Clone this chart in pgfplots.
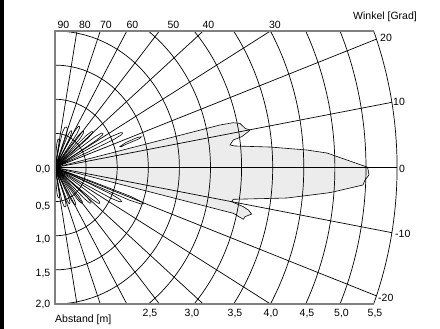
\documentclass[border=0pt]{standalone}
\usepackage{pgfplots}
\pgfplotsset{compat=1.18}
\usepackage{fontspec}
\setmainfont{Liberation Sans}
\definecolor{lobegray}{RGB}{236,236,236}
\definecolor{framegray}{RGB}{128,128,128}
\tikzset{gridline/.style={black, line width=0.7pt},
         lobe/.style={black, line width=0.6pt},
         lbl/.style={inner sep=0pt, font=\fontsize{10.5}{12}\selectfont}}
\begin{document}
\begin{tikzpicture}
\useasboundingbox (0pt,0pt) rectangle (440pt,329pt);
\fill[black] (0pt,0pt) rectangle (4pt,329pt);
\begin{axis}[
  at={(55pt,25pt)}, anchor=south west,
  scale only axis, width=342.1pt, height=273pt,
  xmin=0, xmax=5.5, ymin=-2, ymax=2,
  hide axis, clip=false,
]
% main lobe fill
\addplot[fill=lobegray, draw=none] coordinates {
 (0,0) (2.653,0.623) (2.862,0.656) (2.974,0.647) (3.055,0.574) (3.135,0.549)
 (3.108,0.525) (3.001,0.451) (2.866,0.403) (2.814,0.330) (2.894,0.315)
 (3.457,0.300) (4.051,0.256) (4.373,0.212) (5.016,0.007) (5.032,-0.022)
 (5.048,-0.110) (4.984,-0.183) (4.952,-0.256) (4.469,-0.359) (4.373,-0.374)
 (3.730,-0.447) (2.866,-0.466) (2.841,-0.501) (3.027,-0.574) (3.108,-0.623)
 (3.162,-0.681) (3.055,-0.721) (3.027,-0.759) (2.866,-0.671) (0,0)} -- cycle;
% circles
\pgfplotsinvokeforeach{0.5,1,1.5,2}{
 \addplot[gridline, domain=-90:90, samples=73] ({#1*cos(x)},{#1*sin(x)});}
\addplot[gridline, domain=-53.13:53.13, samples=60] ({2.5*cos(x)},{2.5*sin(x)});
\addplot[gridline, domain=-41.81:41.81, samples=60] ({3*cos(x)},{3*sin(x)});
\addplot[gridline, domain=-34.85:34.85, samples=60] ({3.5*cos(x)},{3.5*sin(x)});
\addplot[gridline, domain=-30:30, samples=60] ({4*cos(x)},{4*sin(x)});
\addplot[gridline, domain=-26.39:26.39, samples=60] ({4.5*cos(x)},{4.5*sin(x)});
\addplot[gridline, domain=-23.58:23.58, samples=60] ({5*cos(x)},{5*sin(x)});
\addplot[gridline, domain=-21.32:21.32, samples=60] ({5.5*cos(x)},{5.5*sin(x)});
% radial lines (angle, radius)
\addplot[gridline, data cs=polar] coordinates {(0,0) (80,2.031)};
\addplot[gridline, data cs=polar] coordinates {(0,0) (70,2.128)};
\addplot[gridline, data cs=polar] coordinates {(0,0) (60,2.309)};
\addplot[gridline, data cs=polar] coordinates {(0,0) (50,2.611)};
\addplot[gridline, data cs=polar] coordinates {(0,0) (40,3.111)};
\addplot[gridline, data cs=polar] coordinates {(0,0) (30,4.0)};
\addplot[gridline, data cs=polar] coordinates {(0,0) (20,5.5)};
\addplot[gridline, data cs=polar] coordinates {(0,0) (10,5.5)};
\addplot[gridline, data cs=polar] coordinates {(0,0) (0,5.5)};
\addplot[gridline, data cs=polar] coordinates {(0,0) (-10,5.5)};
\addplot[gridline, data cs=polar] coordinates {(0,0) (-20,5.5)};
\addplot[gridline, data cs=polar] coordinates {(0,0) (-30,4.0)};
\addplot[gridline, data cs=polar] coordinates {(0,0) (-40,3.111)};
\addplot[gridline, data cs=polar] coordinates {(0,0) (-50,2.611)};
\addplot[gridline, data cs=polar] coordinates {(0,0) (-60,2.309)};
\addplot[gridline, data cs=polar] coordinates {(0,0) (-70,2.128)};
\addplot[gridline, data cs=polar] coordinates {(0,0) (-80,2.031)};
% main lobe outline
\addplot[lobe] coordinates {
 (0,0) (2.653,0.623) (2.862,0.656) (2.974,0.647) (3.055,0.574) (3.135,0.549)
 (3.108,0.525) (3.001,0.451) (2.866,0.403) (2.814,0.330) (2.894,0.315)
 (3.457,0.300) (4.051,0.256) (4.373,0.212) (5.016,0.007) (5.032,-0.022)
 (5.048,-0.110) (4.984,-0.183) (4.952,-0.256) (4.469,-0.359) (4.373,-0.374)
 (3.730,-0.447) (2.866,-0.466) (2.841,-0.501) (3.027,-0.574) (3.108,-0.623)
 (3.162,-0.681) (3.055,-0.721) (3.027,-0.759) (2.866,-0.671) (0,0)};
% upper side lobes (angle, radius)
\addplot[lobe, data cs=polar] coordinates {(0,0) (86,0.19) (85.2,0.357) (83.6,0.412) (82,0.42) (80.4,0.412) (78.8,0.357) (78,0.19) (0,0)};
\addplot[lobe, data cs=polar] coordinates {(0,0) (78,0.28) (77,0.527) (75,0.608) (73,0.62) (71,0.608) (69,0.527) (68,0.28) (0,0)};
\addplot[lobe, data cs=polar] coordinates {(0,0) (67,0.27) (66.4,0.51) (65.2,0.588) (64,0.60) (62.8,0.588) (61.6,0.51) (61,0.27) (0,0)};
\addplot[lobe, data cs=polar] coordinates {(0,0) (60,0.324) (59.4,0.612) (58.2,0.706) (57,0.72) (55.8,0.706) (54.6,0.612) (54,0.324) (0,0)};
\addplot[lobe, data cs=polar] coordinates {(0,0) (52,0.315) (51.4,0.595) (50.2,0.686) (49,0.70) (47.8,0.686) (46.6,0.595) (46,0.315) (0,0)};
\addplot[lobe, data cs=polar] coordinates {(0,0) (43.5,0.36) (43,0.68) (42,0.784) (41,0.80) (40,0.784) (39,0.68) (38.5,0.36) (0,0)};
\addplot[lobe, data cs=polar] coordinates {(0,0) (35.5,0.414) (35,0.782) (34,0.902) (33,0.92) (32,0.902) (31,0.782) (30.5,0.414) (0,0)};
\addplot[lobe, data cs=polar] coordinates {(0,0) (27,0.54) (26.6,1.02) (25.8,1.176) (25,1.20) (24.2,1.176) (23.4,1.02) (23,0.54) (0,0)};
\addplot[lobe, data cs=polar] coordinates {(16.3,1.08) (17.8,1.20) (18.4,1.40) (17.9,1.46) (17.3,1.42) (16.6,1.20) (15.9,1.10) (16.3,1.08)};
% lower side lobes
\addplot[lobe, data cs=polar] coordinates {(0,0) (-78,0.20) (-78.8,0.383) (-80.4,0.441) (-82,0.45) (-83.6,0.441) (-85.2,0.383) (-86,0.20) (0,0)};
\addplot[lobe, data cs=polar] coordinates {(0,0) (-70,0.27) (-70.8,0.51) (-72.4,0.588) (-74,0.60) (-75.6,0.588) (-77.2,0.51) (-78,0.27) (0,0)};
\addplot[lobe, data cs=polar] coordinates {(0,0) (-63,0.26) (-63.6,0.493) (-64.8,0.568) (-66,0.58) (-67.2,0.568) (-68.4,0.493) (-69,0.26) (0,0)};
\addplot[lobe, data cs=polar] coordinates {(0,0) (-56,0.288) (-56.6,0.544) (-57.8,0.627) (-59,0.64) (-60.2,0.627) (-61.4,0.544) (-62,0.288) (0,0)};
\addplot[lobe, data cs=polar] coordinates {(0,0) (-47,0.306) (-47.6,0.578) (-48.8,0.666) (-50,0.68) (-51.2,0.666) (-52.4,0.578) (-53,0.306) (0,0)};
\addplot[lobe, data cs=polar] coordinates {(0,0) (-39.5,0.351) (-40,0.663) (-41,0.764) (-42,0.78) (-43,0.764) (-44,0.663) (-44.5,0.351) (0,0)};
\addplot[lobe, data cs=polar] coordinates {(0,0) (-33.5,0.40) (-34,0.757) (-35,0.872) (-36,0.89) (-37,0.872) (-38,0.757) (-38.5,0.40) (0,0)};
\addplot[lobe, data cs=polar] coordinates {(0,0) (-23,0.531) (-23.4,1.003) (-24.2,1.156) (-25,1.18) (-25.8,1.156) (-26.6,1.003) (-27,0.531) (0,0)};
\addplot[lobe, data cs=polar] coordinates {(0,0) (-18.9,0.684) (-19.2,1.292) (-19.9,1.49) (-20.5,1.52) (-21.1,1.49) (-21.8,1.292) (-22.1,0.684) (0,0)};
% frame
\addplot[framegray, line width=1.6pt] coordinates {(5.1235,2) (0,2) (0,-2) (5.1235,-2)};
\end{axis}
% labels
\foreach \t/\x in {90/63.5, 80/85, 70/106, 60/132.5, 50/173.5, 40/208.5, 30/275}
  \node[lbl, anchor=base] at (\x pt, 300.5pt) {\t};
\foreach \t/\x in {{2,5}/150, {3,0}/192, {3,5}/235, {4,0}/271, {4,5}/307, {5,0}/341.5, {5,5}/375}
  \node[lbl, anchor=base] at (\x pt, 12.5pt) {\t};
\foreach \t/\y in {{0,0}/156, {0,5}/119, {1,0}/86, {1,5}/52.5, {2,0}/21.5}
  \node[lbl, anchor=base east] at (50.5pt, \y pt) {\t};
\node[lbl, anchor=base west] at (380pt, 287.7pt) {20};
\node[lbl, anchor=base west] at (393pt, 223.3pt) {10};
\node[lbl, anchor=base west] at (399pt, 156pt) {0};
\node[lbl, anchor=base west] at (395pt, 91.3pt) {-10};
\node[lbl, anchor=base west] at (378pt, 27.8pt) {-20};
\node[lbl, anchor=base east] at (417pt, 309.6pt) {Winkel [Grad]};
\node[lbl, anchor=base west] at (55pt, 6pt) {Abstand [m]};
\end{tikzpicture}
\end{document}
